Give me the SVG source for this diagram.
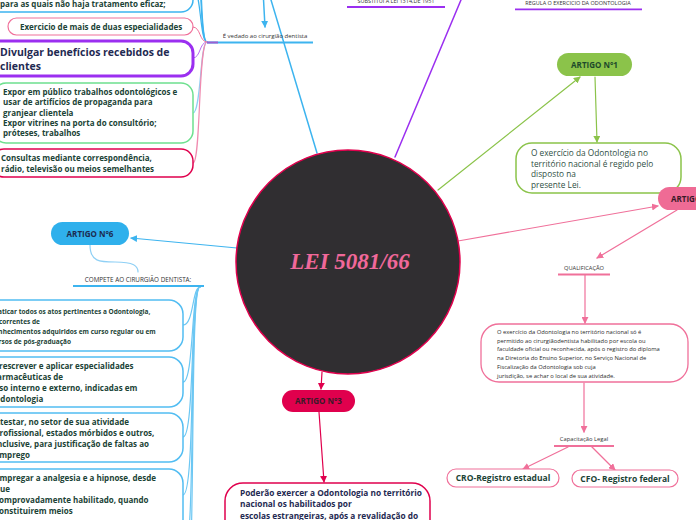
<svg xmlns="http://www.w3.org/2000/svg" width="696" height="520" viewBox="0 0 696 520">
<defs>
<style>
text{font-family:"Open Sans","Noto Sans","Liberation Sans",sans-serif}
.b{font-weight:bold}
.tg{fill:#1b4336}
.tn{fill:#1f2a52}
.tt{fill:#2f4f44}
.lbl{fill:#333;font-size:6px}
.box{fill:#fff}
.c{fill:none;stroke-linecap:round}
.blue{stroke:#3db4ef}
.lblue{stroke:#8fd0f5}
.pink{stroke:#f0709a}
.crim{stroke:#e0004d}
.purp{stroke:#9b2ff0}
.green{stroke:#8bc34a}
</style>
<marker id="aBlue" viewBox="0 0 8 8" refX="7" refY="4" markerWidth="7" markerHeight="7" markerUnits="userSpaceOnUse" orient="auto"><path d="M0,0 L8,4 L0,8 z" fill="#3db4ef"/></marker>
<marker id="aGreen" viewBox="0 0 8 8" refX="7" refY="4" markerWidth="7" markerHeight="7" markerUnits="userSpaceOnUse" orient="auto"><path d="M0,0 L8,4 L0,8 z" fill="#8bc34a"/></marker>
<marker id="aPink" viewBox="0 0 8 8" refX="7" refY="4" markerWidth="7" markerHeight="7" markerUnits="userSpaceOnUse" orient="auto"><path d="M0,0 L8,4 L0,8 z" fill="#f0709a"/></marker>
<marker id="aCrim" viewBox="0 0 8 8" refX="7" refY="4" markerWidth="7" markerHeight="7" markerUnits="userSpaceOnUse" orient="auto"><path d="M0,0 L8,4 L0,8 z" fill="#e0004d"/></marker>
</defs>
<rect width="696" height="520" fill="#fff"/>

<g id="connectors">
<!-- central connectors -->
<line class="c blue" stroke-width="1.5" x1="317" y1="153" x2="265" y2="-20"/>
<line class="c blue" stroke-width="1.5" x1="263" y1="-10" x2="265" y2="27" marker-end="url(#aBlue)"/>
<line class="c purp" stroke-width="1.5" x1="395" y1="157" x2="466" y2="-12"/>
<line class="c green" stroke-width="1.2" x1="438" y1="190" x2="580" y2="77" marker-end="url(#aGreen)"/>
<line class="c green" stroke-width="1.2" x1="595" y1="77" x2="597" y2="142" marker-end="url(#aGreen)"/>
<line class="c pink" stroke-width="1.2" x1="458" y1="241" x2="658" y2="206" marker-end="url(#aPink)"/>
<line class="c pink" stroke-width="1.2" x1="677" y1="210" x2="597" y2="258" marker-end="url(#aPink)"/>
<line class="c pink" stroke-width="1.2" x1="585" y1="275" x2="585" y2="323" marker-end="url(#aPink)"/>
<line class="c pink" stroke-width="1.2" x1="584" y1="383" x2="584" y2="432" marker-end="url(#aPink)"/>
<line class="c pink" stroke-width="1.2" x1="568" y1="447" x2="523" y2="469" marker-end="url(#aPink)"/>
<line class="c pink" stroke-width="1.2" x1="592" y1="447" x2="615" y2="470" marker-end="url(#aPink)"/>
<line class="c crim" stroke-width="1.2" x1="322" y1="372" x2="321" y2="389" marker-end="url(#aCrim)"/>
<line class="c crim" stroke-width="1.2" x1="319" y1="412" x2="324" y2="482" marker-end="url(#aCrim)"/>
<line class="c blue" stroke-width="1.2" x1="237" y1="248" x2="131" y2="238" marker-end="url(#aBlue)"/>
<path class="c lblue" stroke-width="1.2" d="M90,245 C90,262 100,262 115,262 C134,262 138,266 138,272"/>

<!-- top-left hub -->
<path class="c blue" stroke-width="1.2" d="M207,42 C200,42 201,-8 194,-12"/>
<path class="c blue" stroke-width="1.2" d="M207,42 C199,42 203,-40 194,-45"/>
<path class="c blue" stroke-width="1.2" d="M207,42 C198,42 204,-80 194,-85"/>
<path class="c pink" stroke-width="1" d="M207,42 C199,42 201,27 193,27"/>
<path class="c" stroke="#b86cf2" stroke-width="1" d="M207,42 C199,42 201,58 193,58"/>
<path class="c lblue" stroke-width="1.2" d="M207,42 C200,42 201,113 193,113"/>
<path class="c" stroke="#f08bb0" stroke-width="1.2" d="M207,42 C198,42 201,163 193,163"/>

<!-- bottom-left hub -->
<path class="c" stroke="#6cc7f3" stroke-width="1.2" d="M200,287 C192,287 194,325 183,325"/>
<path class="c" stroke="#6cc7f3" stroke-width="1.2" d="M200,287 C191,287 194,382 183,382"/>
<path class="c" stroke="#6cc7f3" stroke-width="1.2" d="M200,287 C190,287 195,437 183,437"/>
<path class="c" stroke="#6cc7f3" stroke-width="1.2" d="M200,287 C189,287 196,495 183,495"/>
<path class="c" stroke="#6cc7f3" stroke-width="1.2" d="M200,287 C188,287 197,560 183,560"/>
<path class="c" stroke="#6cc7f3" stroke-width="1.2" d="M200,287 C188,287 198,620 183,620"/>
</g>

<!-- labels -->
<g id="lbl-vedado">
<line x1="207" y1="42.5" x2="313" y2="42.5" stroke="#3db4ef" stroke-width="2"/>
<line x1="207" y1="42.5" x2="218" y2="42.5" stroke="#9b5fd0" stroke-width="2"/>
<text class="lbl" x="265" y="37.5" text-anchor="middle">É vedado ao cirurgião dentista</text>
</g>
<g id="lbl-substitui">
<line x1="347" y1="7" x2="445" y2="7" stroke="#9b2ff0" stroke-width="1.8"/>
<text class="lbl" x="396" y="2.5" text-anchor="middle" style="font-size:5.5px">SUBSTITUI A LEI 1314,DE 1951</text>
</g>
<g id="lbl-regula">
<line x1="515" y1="9.3" x2="642" y2="9.3" stroke="#9b2ff0" stroke-width="1.8"/>
<text class="lbl" x="578" y="4.5" text-anchor="middle" style="font-size:5.5px">REGULA O EXERCICIO DA ODONTOLOGIA</text>
</g>
<g id="lbl-compete">
<line x1="73" y1="286" x2="204" y2="286" stroke="#3db4ef" stroke-width="2"/>
<text class="lbl" x="138" y="281.5" text-anchor="middle" style="font-size:6.3px">COMPETE AO CIRURGIÃO DENTISTA:</text>
</g>
<g id="lbl-qualificacao">
<line x1="558" y1="274.5" x2="610" y2="274.5" stroke="#f0709a" stroke-width="2"/>
<text class="lbl" x="584" y="270" text-anchor="middle" style="font-size:5.7px">QUALIFICAÇÃO</text>
</g>
<g id="lbl-capacitacao">
<line x1="554" y1="446" x2="614" y2="446" stroke="#f0709a" stroke-width="2"/>
<text class="lbl" x="584" y="441" text-anchor="middle" style="font-size:5.8px">Capacitação Legal</text>
</g>

<!-- central node -->
<g id="central">
<circle cx="348" cy="262" r="112" fill="#302e31" stroke="#e0004d" stroke-width="1.5"/>
<text x="350" y="269" text-anchor="middle" style="font-family:'Liberation Serif','DejaVu Serif',serif;font-size:23px;font-style:italic;font-weight:bold" fill="#f0689a">LEI 5081/66</text>
</g>

<!-- top-left nodes -->
<g id="n-eficaz">
<rect class="box" x="-20" y="-30" width="213" height="42" rx="12" stroke="#3db4ef" stroke-width="1.5"/>
<text class="b tg" x="0" y="7" font-size="8">para as quais não haja tratamento eficaz;</text>
</g>
<g id="n-especialidades">
<rect class="box" x="8" y="18" width="185" height="17" rx="8.5" stroke="#f0709a" stroke-width="1.2"/>
<text class="b tg" x="20" y="30" font-size="8">Exercicio de mais de duas especialidades</text>
</g>
<g id="n-divulgar">
<rect class="box" x="-20" y="41" width="213" height="35" rx="12" stroke="#9b2ff0" stroke-width="3"/>
<text class="b tn" x="0" y="56" font-size="10.5">Divulgar benefícios recebidos de</text>
<text class="b tn" x="0" y="70" font-size="10.5">clientes</text>
</g>
<g id="n-expor">
<rect class="box" x="-6" y="83" width="199" height="60" rx="12" stroke="#6ee08f" stroke-width="1.5"/>
<text class="b tg" x="3" font-size="8"><tspan x="3" y="95">Expor em público trabalhos odontológicos e</tspan><tspan x="3" y="105.3">usar de artifícios de propaganda para</tspan><tspan x="3" y="115.6">granjear clientela</tspan><tspan x="3" y="125.9">Expor vitrines na porta do consultório;</tspan><tspan x="3" y="136.2">próteses, trabalhos</tspan></text>
</g>
<g id="n-consultas">
<rect class="box" x="-8" y="149" width="201" height="28" rx="12" stroke="#e0004d" stroke-width="1.5"/>
<text class="b tg" font-size="8"><tspan x="1" y="161">Consultas mediante correspondência,</tspan><tspan x="1" y="171.7">rádio, televisão ou meios semelhantes</tspan></text>
</g>

<!-- ARTIGO nodes -->
<g id="artigo1">
<rect x="557" y="53" width="75" height="23" rx="11.5" fill="#8bc34a"/>
<text class="b" x="594.5" y="67.5" text-anchor="middle" font-size="8" fill="#1d4a2a">ARTIGO N°1</text>
</g>
<g id="artigo1-texto">
<rect class="box" x="516" y="143" width="165" height="50" rx="16" stroke="#8bc34a" stroke-width="1.5"/>
<text class="tt" font-size="8.3"><tspan x="531" y="156">O exercício da Odontologia no</tspan><tspan x="531" y="166.5">território nacional é regido pelo</tspan><tspan x="531" y="177">disposto na</tspan><tspan x="531" y="187.5">presente Lei.</tspan></text>
</g>
<g id="artigo2">
<rect x="658" y="187" width="80" height="23" rx="11.5" fill="#ef6b95"/>
<text class="b" x="671" y="201.5" font-size="8" fill="#3a1a28">ARTIGO N°2</text>
</g>
<g id="qualificacao-texto">
<rect class="box" x="481" y="324" width="207" height="58" rx="18" stroke="#f0709a" stroke-width="1.3"/>
<text fill="#2a2a2a" font-size="5.8"><tspan x="497" y="333.8">O exercício da Odontologia no território nacional só é</tspan><tspan x="497" y="342.6">permitido ao cirurgiãodentista habilitado por escola ou</tspan><tspan x="497" y="351.4">faculdade oficial ou reconhecida, após o registro do diploma</tspan><tspan x="497" y="360.2">na Diretoria do Ensino Superior, no Serviço Nacional de</tspan><tspan x="497" y="369">Fiscalização da Odontologia sob cuja</tspan><tspan x="497" y="377.8">jurisdição, se achar o local de sua atividade.</tspan></text>
</g>
<g id="cro">
<rect class="box" x="447" y="469" width="112" height="18" rx="9" stroke="#f0709a" stroke-width="1.2"/>
<text class="b tg" x="503" y="481" text-anchor="middle" font-size="8.5">CRO-Registro estadual</text>
</g>
<g id="cfo">
<rect class="box" x="572" y="470" width="106" height="17" rx="8.5" stroke="#f0709a" stroke-width="1.2"/>
<text class="b tg" x="625" y="481.5" text-anchor="middle" font-size="8.5">CFO- Registro federal</text>
</g>
<g id="artigo3">
<rect x="282" y="390" width="73" height="22" rx="11" fill="#e0004d"/>
<text class="b" x="318.5" y="404" text-anchor="middle" font-size="8" fill="#3a1a28">ARTIGO N°3</text>
</g>
<g id="artigo3-texto">
<rect class="box" x="225" y="483" width="205" height="80" rx="18" stroke="#e0004d" stroke-width="1.5"/>
<text class="b tn" font-size="8.3"><tspan x="240" y="496">Poderão exercer a Odontologia no território</tspan><tspan x="240" y="507">nacional os habilitados por</tspan><tspan x="240" y="518.5">escolas estrangeiras, após a revalidação do</tspan></text>
</g>
<g id="artigo6">
<rect x="51" y="222" width="78" height="23" rx="11.5" fill="#2fb0ec"/>
<text class="b" x="90" y="236.5" text-anchor="middle" font-size="8" fill="#1c2b50">ARTIGO N°6</text>
</g>

<!-- bottom-left nodes -->
<g id="n-praticar">
<rect class="box" x="-20" y="300" width="203" height="51" rx="14" stroke="#52bdf2" stroke-width="1.5"/>
<text class="b tg" font-size="6.5"><tspan x="-9" y="313.5">Praticar todos os atos pertinentes a Odontologia,</tspan><tspan x="-9" y="323.8">decorrentes de</tspan><tspan x="-9" y="334.1">conhecimentos adquiridos em curso regular ou em</tspan><tspan x="-9" y="344.4">cursos de pós-graduação</tspan></text>
</g>
<g id="n-prescrever">
<rect class="box" x="-20" y="357" width="203" height="50" rx="14" stroke="#52bdf2" stroke-width="1.5"/>
<text class="b tg" font-size="8"><tspan x="-6" y="369">Prescrever e aplicar especialidades</tspan><tspan x="-6" y="380">farmacêuticas de</tspan><tspan x="-6" y="391">uso interno e externo, indicadas em</tspan><tspan x="-6" y="402">Odontologia</tspan></text>
</g>
<g id="n-atestar">
<rect class="box" x="-20" y="413" width="203" height="49" rx="14" stroke="#52bdf2" stroke-width="1.5"/>
<text class="b tg" font-size="8"><tspan x="-5.5" y="425">Atestar, no setor de sua atividade</tspan><tspan x="-5.5" y="436">profissional, estados mórbidos e outros,</tspan><tspan x="-5.5" y="447">inclusive, para justificação de faltas ao</tspan><tspan x="-5.5" y="458">emprego</tspan></text>
</g>
<g id="n-empregar">
<rect class="box" x="-20" y="469" width="203" height="80" rx="14" stroke="#52bdf2" stroke-width="1.5"/>
<text class="b tg" font-size="8"><tspan x="-5" y="481">Empregar a analgesia e a hipnose, desde</tspan><tspan x="-5" y="492">que</tspan><tspan x="-5" y="503">comprovadamente habilitado, quando</tspan><tspan x="-5" y="514">constituirem meios</tspan></text>
</g>
</svg>
